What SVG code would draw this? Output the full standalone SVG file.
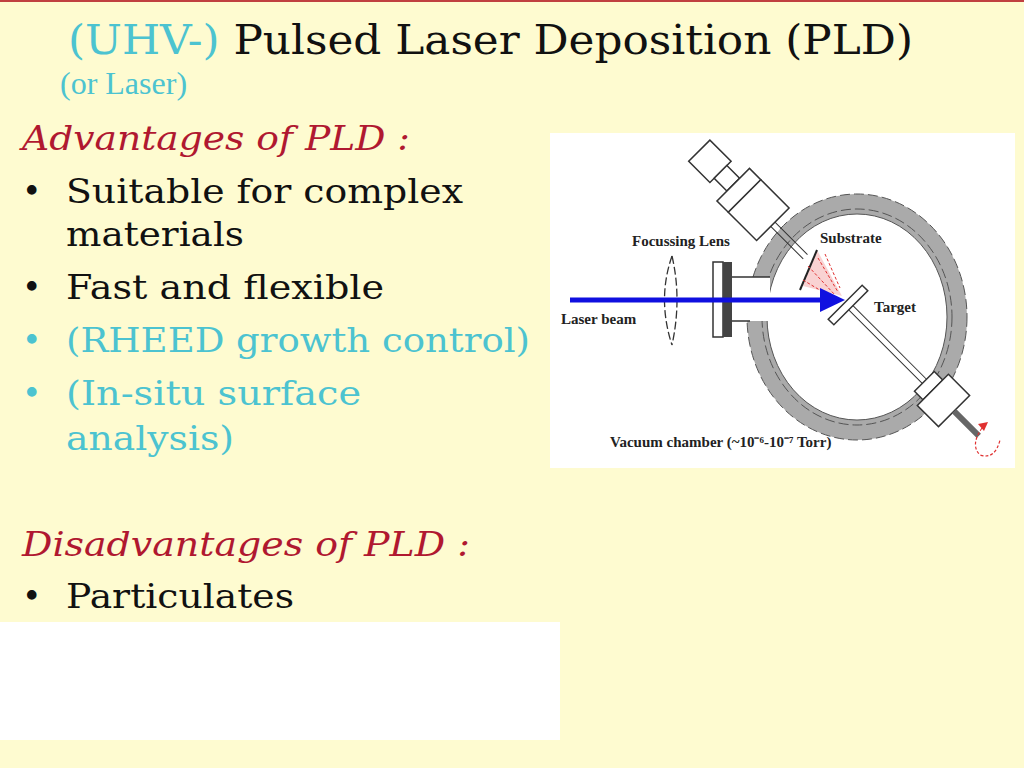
<svg xmlns="http://www.w3.org/2000/svg" width="1024" height="768" viewBox="0 0 1024 768">
<style>
.t{font-family:"DejaVu Serif",serif;}
.b{font-size:33px;fill:#111}
.c{font-size:33px;fill:#4cc3d0}
.r{font-size:33px;fill:#b01830;font-style:italic}
.l{font-family:"Liberation Serif",serif;font-size:15px;fill:#222;font-weight:bold}
.k{fill:#fff;stroke:#333;stroke-width:1.5}
</style>
<rect width="1024" height="768" fill="#fefbd0"/>
<line x1="0" y1="1" x2="1024" y2="1" stroke="#c04040" stroke-width="2"/>
<text class="t" x="68" y="54" font-size="41" textLength="845" lengthAdjust="spacingAndGlyphs"><tspan fill="#4cc3d0">(UHV-)</tspan><tspan fill="#111"> Pulsed Laser Deposition (PLD)</tspan></text>
<text x="60" y="94" font-family="Liberation Serif,serif" font-size="32" fill="#4cc3d0">(or Laser)</text>
<text class="t r" x="22" y="150" textLength="388" lengthAdjust="spacingAndGlyphs">Advantages of PLD :</text>
<g class="t">
<text class="b" x="22" y="203">•</text><text class="b" x="66" y="203" textLength="397" lengthAdjust="spacingAndGlyphs">Suitable for complex</text>
<text class="b" x="66" y="246" textLength="178" lengthAdjust="spacingAndGlyphs">materials</text>
<text class="b" x="22" y="299">•</text><text class="b" x="66" y="299" textLength="318" lengthAdjust="spacingAndGlyphs">Fast and flexible</text>
<text class="c" x="22" y="352">•</text><text class="c" x="66" y="352" textLength="464" lengthAdjust="spacingAndGlyphs">(RHEED growth control)</text>
<text class="c" x="22" y="405">•</text><text class="c" x="66" y="405" textLength="295" lengthAdjust="spacingAndGlyphs">(In-situ surface</text>
<text class="c" x="66" y="450" textLength="168" lengthAdjust="spacingAndGlyphs">analysis)</text>
</g>
<text class="t r" x="22" y="556" textLength="448" lengthAdjust="spacingAndGlyphs">Disadvantages of PLD :</text>
<text class="t b" x="22" y="608">•</text><text class="t b" x="66" y="608" textLength="228" lengthAdjust="spacingAndGlyphs">Particulates</text>
<rect x="0" y="622" width="560" height="118" fill="#fff"/>
<g id="setup">
<rect x="550" y="133" width="465" height="335" fill="#fff"/>
<ellipse cx="857" cy="317" rx="100" ry="113" fill="none" stroke="#aaa" stroke-width="20"/>
<ellipse cx="857" cy="317" rx="110" ry="123" fill="none" stroke="#555" stroke-dasharray="10 4" stroke-width="1"/>
<ellipse cx="857" cy="317" rx="95" ry="108" fill="none" stroke="#555" stroke-dasharray="10 4" stroke-width="1"/>
<ellipse cx="857" cy="317" rx="90" ry="103" fill="none" stroke="#555" stroke-width="1"/>
<rect x="740" y="277" width="30" height="44" fill="#fff"/>
<path d="M 732 277 L 770 277 M 732 321 L 750 321" stroke="#333" stroke-width="1.5"/>
<rect x="713" y="262" width="10" height="75" class="k"/>
<rect x="723" y="262" width="9" height="75" fill="#444"/>
<path d="M 672 256 Q 657 299 672 345 M 672 256 Q 682 299 672 345" fill="none" stroke="#333" stroke-width="1.3" stroke-dasharray="8 3"/>
<g transform="translate(700 150) rotate(45)">
<rect x="0" y="-14" width="30" height="30" class="k"/>
<rect x="30" y="-8" width="18" height="18" class="k"/>
<rect x="48" y="-22" width="16" height="46" class="k"/>
<rect x="64" y="-22" width="40" height="46" class="k"/>
<line x1="104" y1="-2" x2="150" y2="-2" stroke="#333"/>
<line x1="104" y1="4" x2="150" y2="4" stroke="#333"/>
</g>
<polygon points="803,286 817,250 842,296" fill="#f7c7c7" opacity="0.8"/>
<line x1="817" y1="250" x2="800" y2="290" stroke="#222" stroke-width="2"/>
<path d="M 818 258 L 838 292 M 808 266 L 835 295 M 803 280 L 833 298 M 825 254 L 840 288" stroke="#e03030" stroke-width="1" stroke-dasharray="3 2"/>
<g transform="translate(848 305) rotate(45)">
<rect x="-4" y="-24" width="8" height="48" class="k"/>
<line x1="4" y1="-3" x2="120" y2="-3" stroke="#333"/>
<line x1="4" y1="3" x2="120" y2="3" stroke="#333"/>
<rect x="108" y="-14" width="12" height="28" class="k"/>
<rect x="120" y="-22" width="30" height="44" class="k"/>
<rect x="150" y="-3" width="35" height="6" fill="#666"/>
</g>
<path d="M 982 428 Q 970 445 980 455 Q 995 460 1000 440" fill="none" stroke="#e03030" stroke-width="1.2" stroke-dasharray="3 2"/>
<polygon points="978,424 988,422 984,431" fill="#e03030"/>
<line x1="570" y1="300" x2="820" y2="300" stroke="#1010e0" stroke-width="5"/>
<polygon points="820,288 845,300 820,312" fill="#1010e0"/>
<text class="l" x="632" y="246">Focussing Lens</text>
<text class="l" x="820" y="243">Substrate</text>
<text class="l" x="874" y="312">Target</text>
<text class="l" x="561" y="324">Laser beam</text>
<text class="l" x="610" y="447">Vacuum chamber (~10⁻⁶-10⁻⁷ Torr)</text>
</g>
</svg>
